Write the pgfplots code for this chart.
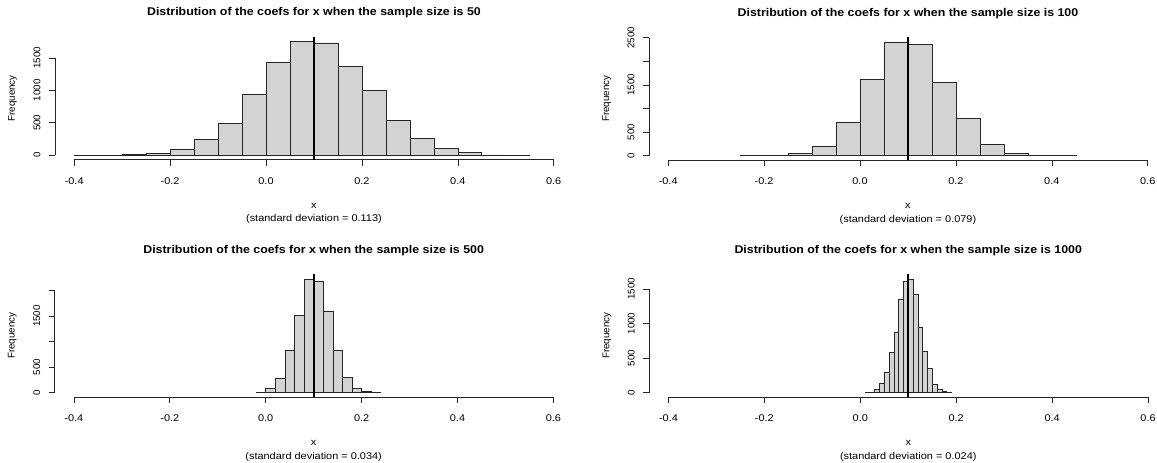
\documentclass[border=0pt]{standalone}
\usepackage{fontspec}
\setmainfont{Liberation Sans}
\usepackage{pgfplots}
\pgfplotsset{compat=1.18}

\definecolor{histgray}{HTML}{D3D3D3}
\newcommand{\lab}{\fontsize{9.8}{11}\selectfont}
\newcommand{\ttl}{\fontsize{11.3}{13}\selectfont\bfseries}

\pgfplotsset{
  rhist/.style={
    scale only axis, width=517.9bp, height=123bp,
    anchor=south west,
    xmin=-0.44, xmax=0.64,
    axis x line*=bottom, axis y line*=left,
    axis line style={draw=none},
    tick align=outside, major tick length=6bp,
    tick style={black!85, line width=0.6bp},
    xtick={-0.4,-0.2,0,0.2,0.4,0.6},
    xticklabels={-0.4,-0.2,0.0,0.2,0.4,0.6},
    ticklabel style={font=\lab},
    xticklabel style={xscale=1.12},
    xticklabel shift=8bp, yticklabel shift=5bp,
    /pgf/number format/assume math mode=true,
    yticklabel style={rotate=90, anchor=south},
    clip=false,
  },
  bars/.style={ybar interval, fill=histgray, draw=black!85, line width=0.6bp},
  axln/.style={black!85, line width=0.7bp, no marks},
  vln/.style={black, line width=2.2bp, no marks},
}
\tikzset{
  ttlnode/.style={anchor=base, yshift=20.8bp, font=\ttl, xscale=1.1},
  xlabnode/.style={anchor=base, yshift=-48.5bp, font=\lab, xscale=1.12},
  sdnode/.style={anchor=base, yshift=-62bp, font=\lab, xscale=1.12},
  ylabnode/.style={anchor=base, xshift=-40bp, rotate=90, font=\lab},
}

\begin{document}
\begin{tikzpicture}
\useasboundingbox (0,0) rectangle (1157bp,463bp);

% sample size 50
\begin{axis}[rhist, at={(55bp,303.2bp)},
  ymin=-70.2, ymax=1825.2,
  ytick={0,500,1000,1500}, yticklabels={0,500,1000,1500}]
\addplot[bars] coordinates {(-0.40,1) (-0.35,2) (-0.30,9) (-0.25,25) (-0.20,97)
  (-0.15,250) (-0.10,494) (-0.05,940) (0.00,1434) (0.05,1755) (0.10,1730)
  (0.15,1372) (0.20,1002) (0.25,531) (0.30,256) (0.35,108) (0.40,41)
  (0.45,6) (0.50,1) (0.55,0)};
\addplot[axln] coordinates {(-0.4,-70.2) (0.6,-70.2)};
\addplot[axln] coordinates {(-0.44,0) (-0.44,1500)};
\addplot[vln] coordinates {(0.1,-70.2) (0.1,1825.2)};
\node[ttlnode] at (rel axis cs:0.5,1) {Distribution of the coefs for x when the sample size is 50};
\node[xlabnode] at (rel axis cs:0.5,0) {x};
\node[sdnode] at (rel axis cs:0.5,0) {(standard deviation = 0.113)};
\node[ylabnode] at (rel axis cs:0,0.5) {Frequency};
\end{axis}

% sample size 100
\begin{axis}[rhist, at={(649bp,302.7bp)},
  ymin=-96.5, ymax=2508.5,
  ytick={0,500,1000,1500,2000,2500}, yticklabels={0,500,,1500,,2500}]
\addplot[bars] coordinates {(-0.25,1) (-0.20,5) (-0.15,56) (-0.10,207)
  (-0.05,718) (0.00,1610) (0.05,2413) (0.10,2360) (0.15,1546) (0.20,790)
  (0.25,233) (0.30,56) (0.35,7) (0.40,1) (0.45,0)};
\addplot[axln] coordinates {(-0.4,-96.5) (0.6,-96.5)};
\addplot[axln] coordinates {(-0.44,0) (-0.44,2500)};
\addplot[vln] coordinates {(0.1,-96.5) (0.1,2508.5)};
\node[ttlnode] at (rel axis cs:0.5,1) {Distribution of the coefs for x when the sample size is 100};
\node[xlabnode] at (rel axis cs:0.5,0) {x};
\node[sdnode] at (rel axis cs:0.5,0) {(standard deviation = 0.079)};
\node[ylabnode] at (rel axis cs:0,0.5) {Frequency};
\end{axis}

% sample size 500
\begin{axis}[rhist, at={(54.7bp,65.8bp)},
  ymin=-89.2, ymax=2318.2,
  ytick={0,500,1000,1500,2000}, yticklabels={0,500,,1500,}]
\addplot[bars] coordinates {(-0.02,10) (0.00,86) (0.02,288) (0.04,837)
  (0.06,1516) (0.08,2228) (0.10,2186) (0.12,1600) (0.14,838) (0.16,302)
  (0.18,86) (0.20,18) (0.22,2) (0.24,0)};
\addplot[axln] coordinates {(-0.4,-89.2) (0.6,-89.2)};
\addplot[axln] coordinates {(-0.44,0) (-0.44,2000)};
\addplot[vln] coordinates {(0.1,-89.2) (0.1,2318.2)};
\node[ttlnode] at (rel axis cs:0.5,1) {Distribution of the coefs for x when the sample size is 500};
\node[xlabnode] at (rel axis cs:0.5,0) {x};
\node[sdnode] at (rel axis cs:0.5,0) {(standard deviation = 0.034)};
\node[ylabnode] at (rel axis cs:0,0.5) {Frequency};
\end{axis}

% sample size 1000
\begin{axis}[rhist, at={(649.3bp,65.7bp)},
  ymin=-65.8, ymax=1710.8,
  ytick={0,500,1000,1500}, yticklabels={0,500,1000,1500}]
\addplot[bars] coordinates {(0.01,2) (0.02,10) (0.03,53) (0.04,135) (0.05,291)
  (0.06,584) (0.07,872) (0.08,1350) (0.09,1609) (0.10,1643) (0.11,1424)
  (0.12,942) (0.13,600) (0.14,352) (0.15,121) (0.16,48) (0.17,14)
  (0.18,2) (0.19,0)};
\addplot[axln] coordinates {(-0.4,-65.8) (0.6,-65.8)};
\addplot[axln] coordinates {(-0.44,0) (-0.44,1500)};
\addplot[vln] coordinates {(0.1,-65.8) (0.1,1710.8)};
\node[ttlnode] at (rel axis cs:0.5,1) {Distribution of the coefs for x when the sample size is 1000};
\node[xlabnode] at (rel axis cs:0.5,0) {x};
\node[sdnode] at (rel axis cs:0.5,0) {(standard deviation = 0.024)};
\node[ylabnode] at (rel axis cs:0,0.5) {Frequency};
\end{axis}
\end{tikzpicture}
\end{document}
